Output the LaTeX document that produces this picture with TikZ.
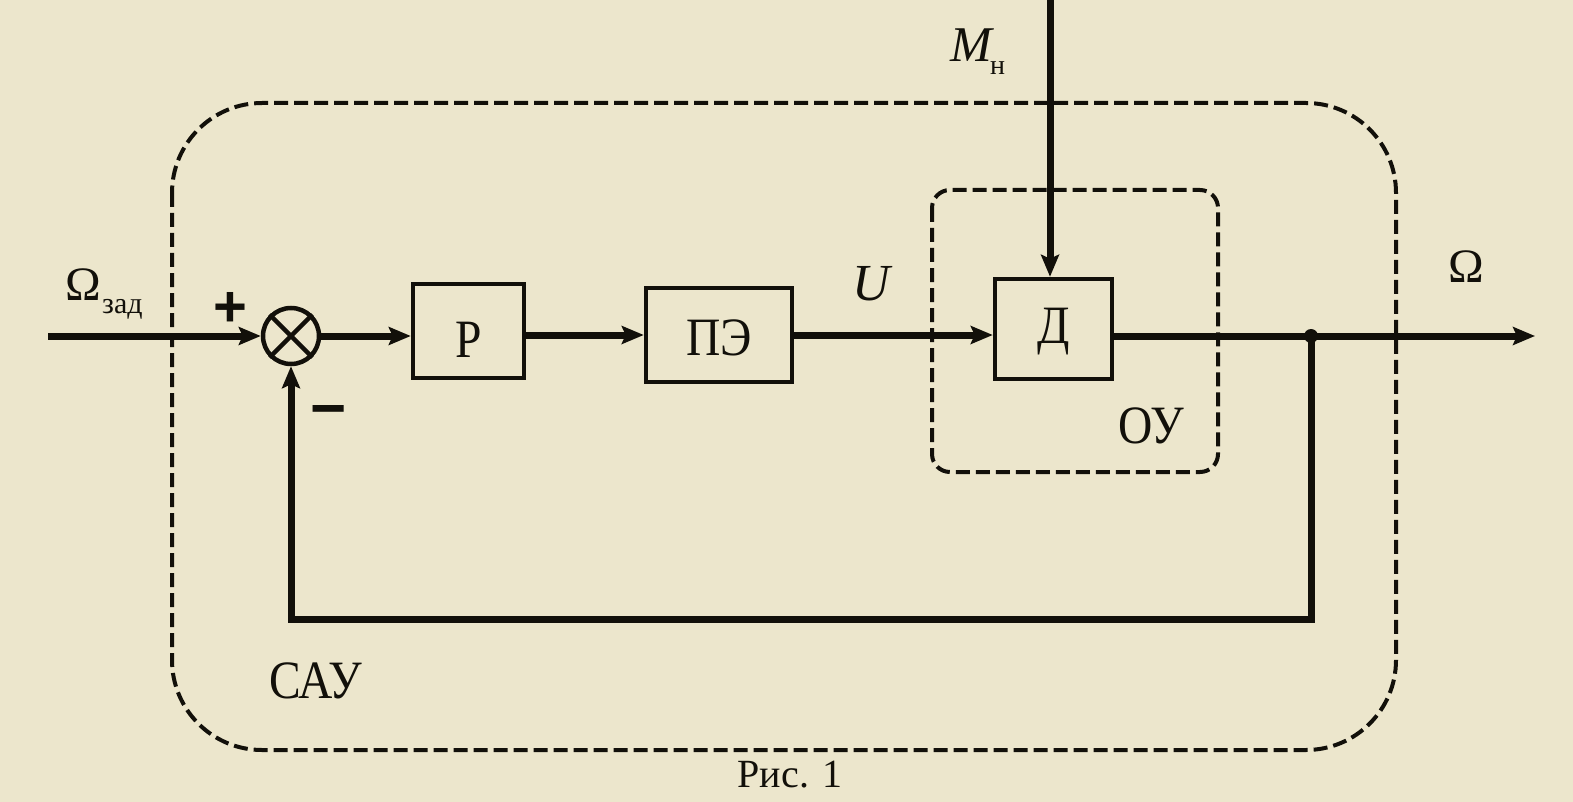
\documentclass[tikz,border=0pt]{standalone}
\usepackage{fontspec}
\setmainfont{Liberation Serif}
\newfontfamily\arl{Liberation Sans}
\usetikzlibrary{arrows.meta}
\definecolor{paper}{RGB}{236,230,204}
\definecolor{ink}{RGB}{18,16,10}
\newcommand{\narrow}[1]{\scalebox{0.88}[1]{#1}}
\begin{document}
\begin{tikzpicture}[x=1pt,y=-1pt,
  wire/.style={line width=7pt, draw=ink},
  arr/.style={wire, -{Stealth[length=22pt,width=18pt,inset=4pt]}},
  blk/.style={draw=ink, line width=4.5pt, inner sep=0pt, text=ink,
    font=\fontsize{54}{54}\selectfont, text depth=0pt},
  dbox/.style={draw=ink, line width=4pt, dash pattern=on 14pt off 6pt},
  lbl/.style={inner sep=0pt, text=ink, anchor=base},
  mono/.style={lbl, font=\fontsize{54}{54}\selectfont},
  serif/.style={lbl, font=\fontsize{48}{48}\selectfont}]
\useasboundingbox (0,0) rectangle (1573,802);
\fill[paper] (0,0) rectangle (1573,802);

% frames
\draw[dbox, rounded corners=90pt] (172,103) rectangle (1396,750);
\draw[dbox, rounded corners=18pt] (932,190) rectangle (1218,472);

% blocks
\node[circle, draw=ink, line width=4.5pt, minimum size=56pt, inner sep=0pt] (sum) at (291,336) {};
\draw[ink, line width=4.5pt] (sum.north west) -- (sum.south east) (sum.north east) -- (sum.south west);
\node[blk, minimum width=111pt, minimum height=94pt, text height=52pt] (P) at (468.5,331) {\narrow{Р}};
\node[blk, minimum width=146pt, minimum height=94pt, text height=40pt] (PE) at (719,335) {\narrow{ПЭ}};
\node[blk, minimum width=117pt, minimum height=100pt, text height=28pt] (D) at (1053.5,329) {\narrow{Д}};

% coordinates
\coordinate (in) at (48,336);
\coordinate (j) at (1311,336);
\coordinate (out) at (1535,336);
\coordinate (top) at (1050,0);
\coordinate (fb) at (1311,619);

% connectors
\draw[arr] (in) -- (sum.west);
\draw[arr] (sum.east) -- (sum.east -| P.west);
\draw[arr] (P.east |- PE.west) -- (PE.west);
\draw[arr] (PE.east) -- (PE.east -| D.west);
\draw[wire] (D.east |- j) -- (j);
\draw[arr] (j) -- (out);
\draw[arr] (top) -- (top |- D.north);
\draw[arr] (j) |- (sum.south |- fb) -- (sum.south);
\fill[ink] (j) circle (7pt);

% labels
\node[serif] (wz) at (83,300) {Ω};
\node[lbl, anchor=base west, font=\fontsize{30}{30}\selectfont] (wzs) at (102,313) {зад};
\node[lbl, font=\arl\bfseries\fontsize{58}{58}\selectfont] (plus) at (230,326) {+};
\node[lbl, font=\arl\bfseries\fontsize{62}{62}\selectfont] (minus) at (329,429) {−};
\node[serif, font=\itshape\fontsize{52}{52}\selectfont] (U) at (871,300) {U};
\node[serif, font=\itshape\fontsize{50}{50}\selectfont] (M) at (971,62) {M};
\node[lbl, anchor=base west, font=\fontsize{28}{28}\selectfont] (Ms) at (990,75) {н};
\node[serif] (wo) at (1466,283) {Ω};
\node[mono] (OU) at (1151,443) {\narrow{ОУ}};
\node[mono] (SAU) at (316,698) {\narrow{САУ}};
\node[serif, font=\fontsize{40}{40}\selectfont] (fig) at (790,787) {Рис. 1};
\end{tikzpicture}
\end{document}
